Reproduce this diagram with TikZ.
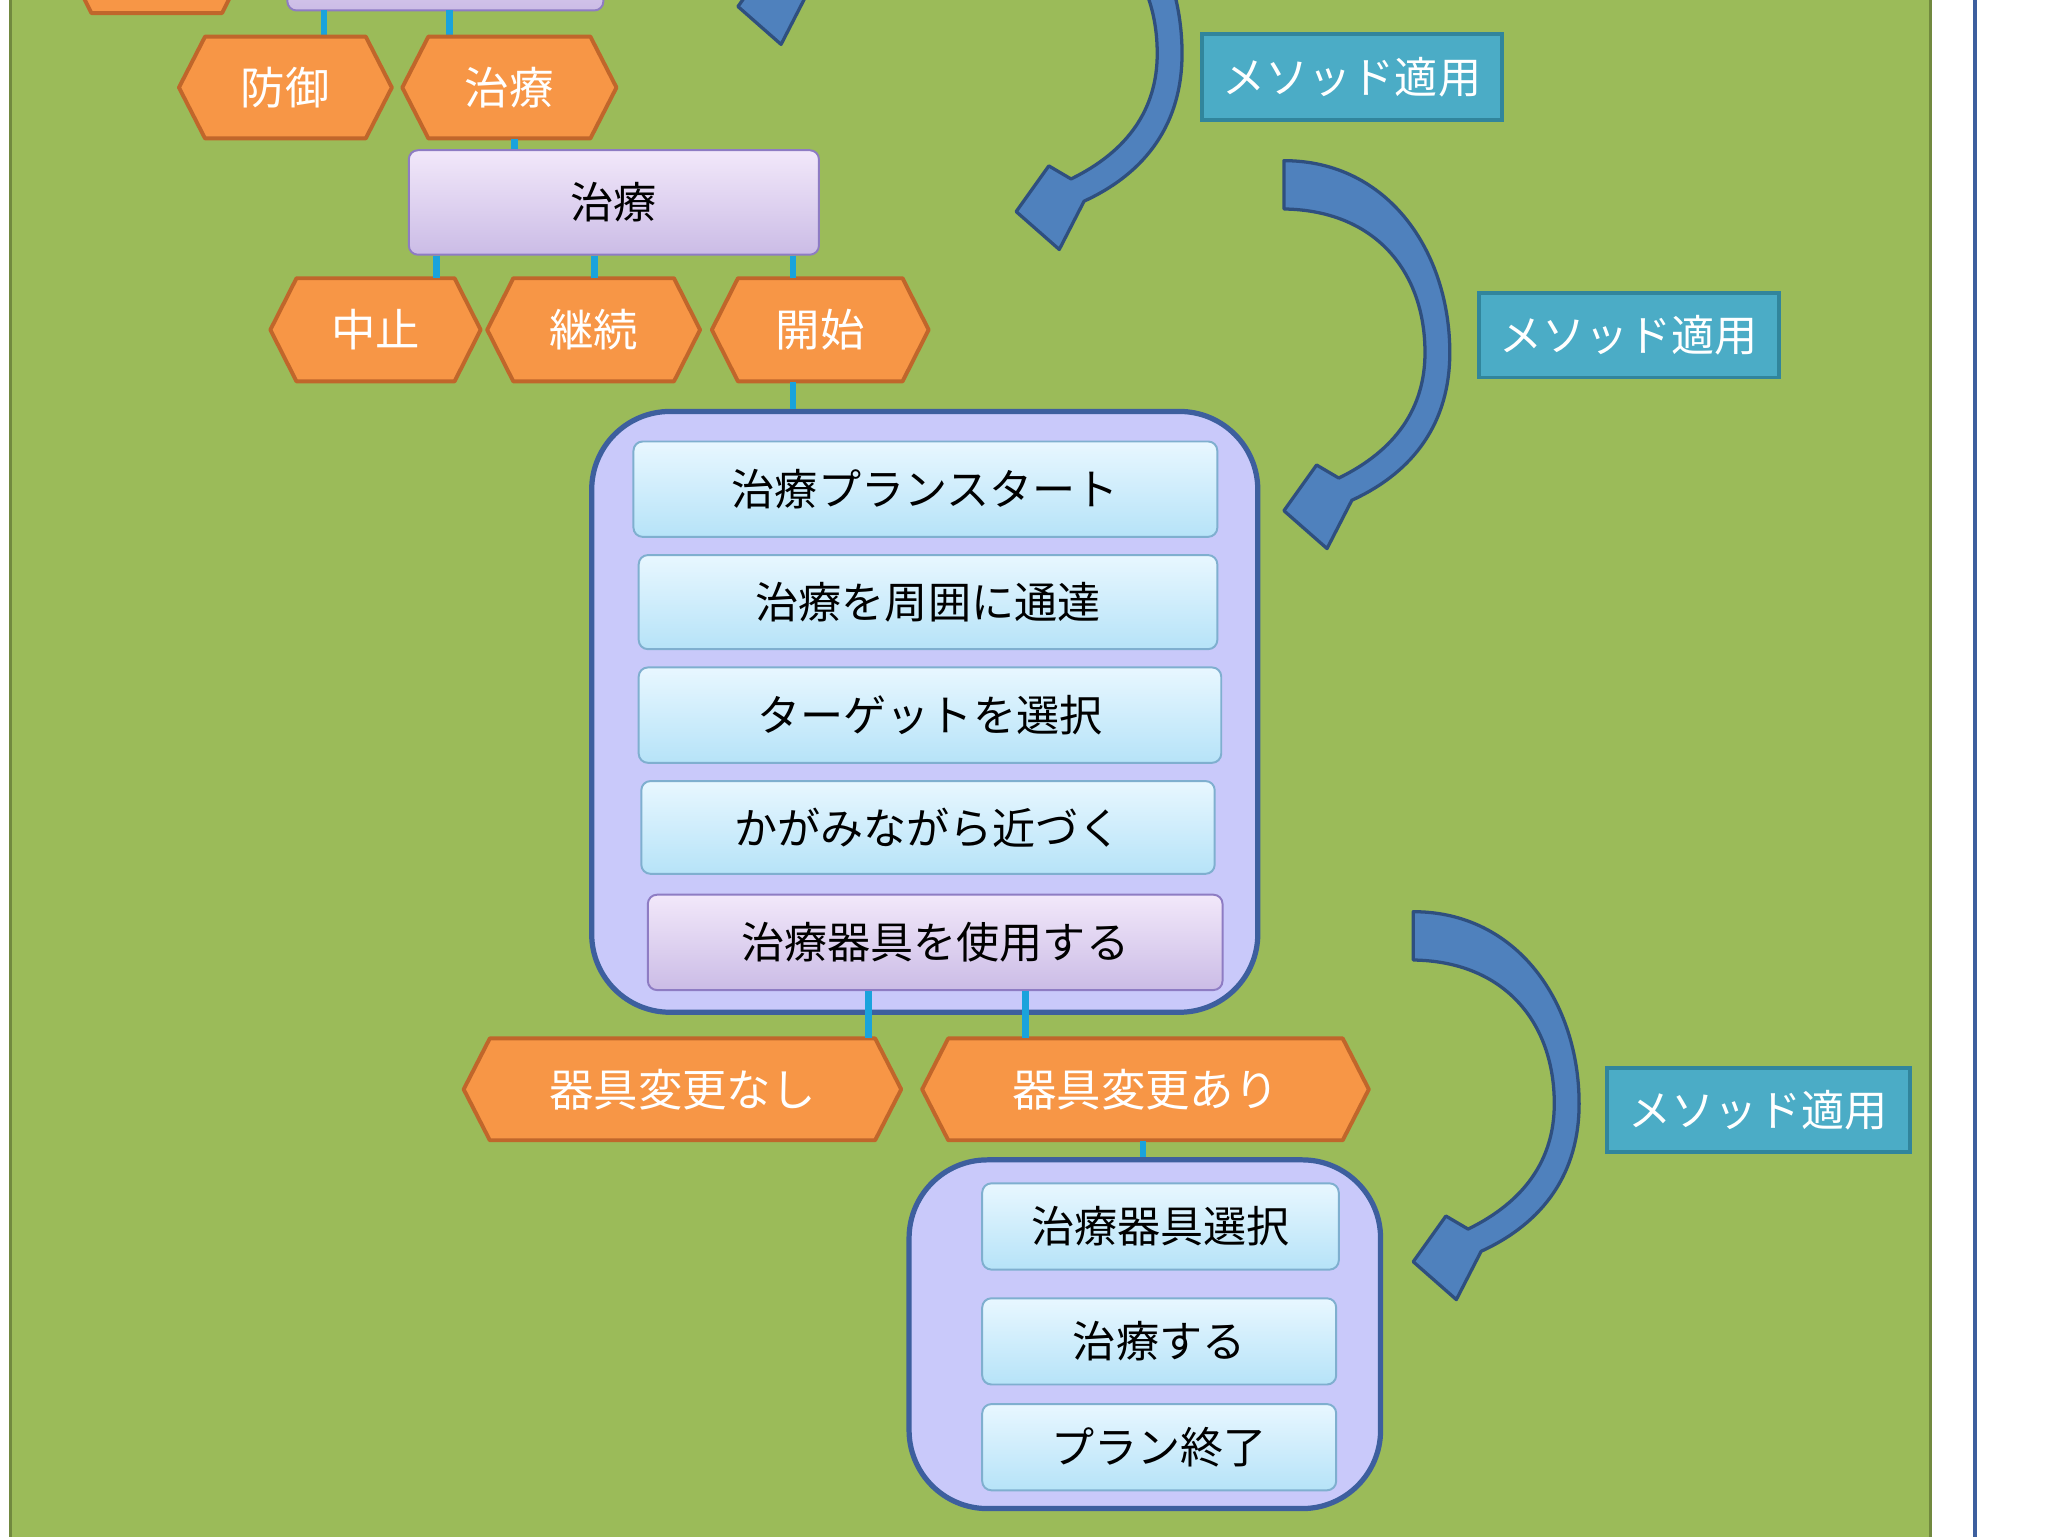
\documentclass[tikz,border=0pt]{standalone}
\usepackage{fontspec}
\setmainfont{Noto Sans CJK JP}
\begin{document}
\begin{tikzpicture}[x=1pt,y=-1pt,
  hexs/.style={draw=hexb,fill=hexf,line width=3pt,line join=round},
  htxt/.style={text=white,font=\fontsize{34}{40}\selectfont},
  conn/.style={draw=connc,line width=5pt},
  cont/.style={draw=contb,fill=contf,line width=4pt,rounded corners=60pt},
  bbox/.style={draw=boxb,line width=1.5pt,rounded corners=7pt,top color=boxt,bottom color=boxbt,font=\fontsize{33}{40}\selectfont},
  pbox/.style={draw=pbb,line width=1.5pt,rounded corners=7pt,top color=pbt,bottom color=pbbt,font=\fontsize{33}{40}\selectfont},
  lab/.style={draw=labb,fill=labf,line width=3pt,text=white,font=\fontsize{33}{40}\selectfont},
  arr/.style={draw=arrb,fill=arrf,line width=2.5pt,line join=round}]
\definecolor{bgg}{HTML}{9BBB59}\definecolor{bgb}{HTML}{71893F}
\definecolor{hexf}{HTML}{F79646}\definecolor{hexb}{HTML}{C0662B}
\definecolor{connc}{HTML}{1AA3DC}
\definecolor{contf}{HTML}{C9C9FA}\definecolor{contb}{HTML}{3D5F9E}
\definecolor{boxb}{HTML}{7FAFCF}\definecolor{boxt}{HTML}{E8F7FF}\definecolor{boxbt}{HTML}{B6E3F8}
\definecolor{pbb}{HTML}{8E7CC3}\definecolor{pbt}{HTML}{F2E8FA}\definecolor{pbbt}{HTML}{CBBCE6}
\definecolor{labf}{HTML}{4BACC6}\definecolor{labb}{HTML}{31859C}
\definecolor{arrf}{HTML}{4F81BD}\definecolor{arrb}{HTML}{2F4F7F}
\newcommand\bx[7]{\node[#1,minimum width={(#5-#3)*1pt},minimum height={(#6-#4)*1pt},inner sep=0pt] (#2) at ({(#3+#5)/2},{(#4+#6)/2}) {#7};}
\newcommand\hx[6]{\draw[hexs] (#2,{(#3+#5)/2}) -- ({#2+20},#3) -- ({#4-20},#3) -- (#4,{(#3+#5)/2}) -- ({#4-20},#5) -- ({#2+20},#5) -- cycle;
  \node[htxt,minimum width={(#4-#2)*1pt},minimum height={(#5-#3)*1pt},inner sep=0pt] (#1) at ({(#2+#4)/2},{(#3+#5)/2}) {#6};}
\newcommand\carrow[2]{\begin{scope}[shift={(#1,#2)}]
  \filldraw[arr] (0,0) .. controls (80,0) and (127,70) .. (127,147) .. controls (127,200) and (100,238) .. (52,260)
   -- (33,297) -- (0,268) -- (25,233) -- (42,243) .. controls (85,222) and (108,190) .. (108,147)
   .. controls (108,85) and (70,38) .. (0,37) -- cycle;
  \end{scope}}
\useasboundingbox (0,0) rectangle (1568,1176);
\clip (0,0) rectangle (1568,1176);
\fill[white] (0,0) rectangle (1568,1176);
\filldraw[fill=bgg,draw=bgb,line width=2pt] (8,-10) rectangle (1478,1190);
\draw[contb,line width=3pt] (1512,-10) -- (1512,1190);
% top partial
\hx{h0}{50}{-70}{190}{10}{}
\bx{pbox}{p0}{220}{-70}{462}{8}{}
\draw[conn] (248,8) -- (248,28);
\draw[conn] (344,8) -- (344,28);
\hx{h1}{137}{28}{300}{106}{防御}
\hx{h2}{308}{28}{472}{106}{治療}
\bx{pbox}{t2}{313}{115}{627}{195}{治療}
\draw[conn] (h2.south -| 394,0) -- (t2.north -| 394,0);
\hx{h3}{207}{213}{368}{292}{中止}
\hx{h4}{373}{213}{536}{292}{継続}
\hx{h5}{545}{213}{711}{292}{開始}
\draw[conn] (t2.south -| 334,0) -- (h3.north -| 334,0);
\draw[conn] (t2.south -| 455,0) -- (h4.north -| 455,0);
\draw[conn] (t2.south -| 607,0) -- (h5.north -| 607,0);
\bx{cont}{c1}{453}{315}{963}{775}{}
\draw[conn] (h5.south -| 607,0) -- (c1.north -| 607,0);
\bx{bbox}{b1}{485}{338}{932}{411}{治療プランスタート}
\bx{bbox}{b2}{489}{425}{932}{497}{治療を周囲に通達}
\bx{bbox}{b3}{489}{511}{935}{584}{ターゲットを選択}
\bx{bbox}{b4}{491}{598}{930}{669}{かがみながら近づく}
\bx{pbox}{b5}{496}{685}{936}{758}{治療器具を使用する}
\hx{h6}{355}{795}{690}{873}{器具変更なし}
\hx{h7}{706}{795}{1048}{873}{器具変更あり}
\draw[conn] (b5.south -| 665,0) -- (h6.north -| 665,0);
\draw[conn] (b5.south -| 785,0) -- (h7.north -| 785,0);
\bx{cont}{c2}{696}{888}{1057}{1155}{}
\draw[conn] (h7.south -| 875,0) -- (c2.north -| 875,0);
\bx{bbox}{d1}{752}{906}{1025}{972}{治療器具選択}
\bx{bbox}{d2}{752}{994}{1023}{1060}{治療する}
\bx{bbox}{d3}{752}{1075}{1023}{1141}{プラン終了}
% labels
\bx{lab}{l1}{920}{26}{1150}{92}{メソッド適用}
\bx{lab}{l2}{1132}{224}{1362}{289}{メソッド適用}
\bx{lab}{l3}{1230}{818}{1462}{882}{メソッド適用}
% arrows
\carrow{565}{-263}
\carrow{778}{-106}
\carrow{983}{123}
\carrow{1082}{698}
\end{tikzpicture}
\end{document}
